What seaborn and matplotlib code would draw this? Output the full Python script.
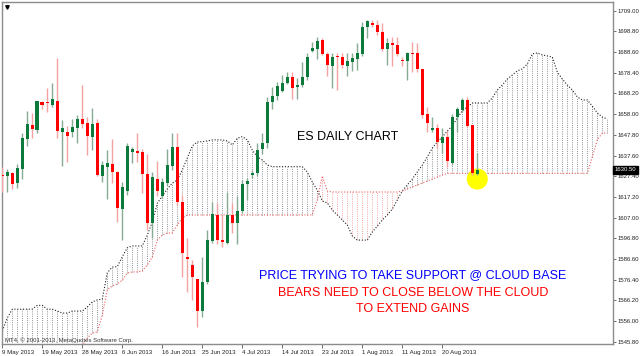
import matplotlib
matplotlib.use("Agg")
import matplotlib.pyplot as plt
import matplotlib.transforms as mtransforms
from matplotlib import font_manager
import numpy as np
import pandas as pd
import seaborn as sns

# ---------------- data ----------------
opens = [1628.0, 1627.6, 1629.1, 1623.9, 1630.8, 1645.7, 1652.6, 1650.0, 1663.8, 1663.6,
         1662.6, 1664.6, 1649.2, 1649.2, 1649.2, 1651.2, 1655.4, 1653.6, 1646.7, 1653.6,
         1627.5, 1632.1, 1633.4, 1629.5, 1611.2, 1620.2, 1639.5, 1640.0, 1639.3, 1628.5,
         1604.2, 1625.9, 1617.6, 1624.2, 1632.4, 1641.6, 1614.8, 1587.7, 1583.6, 1576.7,
         1561.1, 1575.4, 1595.6, 1608.3, 1596.0, 1594.6, 1608.3, 1604.5, 1610.2, 1623.5,
         1628.0, 1628.8, 1640.7, 1643.6, 1664.1, 1666.9, 1669.5, 1673.5, 1676.5, 1671.4,
         1672.4, 1676.2, 1689.3, 1689.9, 1694.6, 1687.9, 1681.7, 1686.7, 1686.3, 1681.7,
         1683.9, 1685.0, 1687.6, 1700.8, 1703.1, 1702.2, 1698.6, 1690.0, 1693.2, 1692.1,
         1684.4, 1684.3, 1688.3, 1688.0, 1680.1, 1658.1, 1650.4, 1651.0, 1643.6, 1646.7,
         1633.7, 1656.6, 1660.0, 1664.9, 1652.6, 1628.7]
highs = [1632.0, 1630.8, 1629.5, 1633.4, 1648.5, 1659.7, 1658.4, 1664.5, 1664.6, 1671.0,
         1673.2, 1685.5, 1655.1, 1652.2, 1655.4, 1657.6, 1672.4, 1656.7, 1660.9, 1655.6,
         1634.9, 1640.3, 1645.6, 1630.0, 1624.7, 1643.9, 1642.0, 1648.5, 1640.8, 1638.3,
         1629.6, 1634.9, 1626.5, 1640.7, 1648.5, 1648.8, 1618.1, 1596.8, 1586.1, 1576.7,
         1587.7, 1600.9, 1614.8, 1614.0, 1608.3, 1619.7, 1614.3, 1617.6, 1625.5, 1626.5,
         1630.4, 1643.8, 1648.5, 1666.3, 1671.5, 1673.8, 1677.3, 1678.9, 1678.9, 1675.7,
         1683.7, 1688.0, 1693.4, 1695.8, 1695.5, 1688.8, 1688.1, 1688.0, 1688.1, 1688.0,
         1688.1, 1692.9, 1703.4, 1704.4, 1704.2, 1704.4, 1702.8, 1695.5, 1696.2, 1695.9,
         1686.3, 1688.8, 1693.7, 1692.9, 1680.3, 1661.4, 1656.7, 1653.1, 1651.4, 1649.7,
         1658.1, 1661.7, 1665.9, 1666.6, 1652.6, 1638.7]
lows = [1619.5, 1619.75, 1621.1, 1621.4, 1625.9, 1642.3, 1646.1, 1648.8, 1660.5, 1659.2,
        1661.7, 1646.1, 1632.6, 1634.5, 1646.9, 1643.6, 1651.0, 1637.8, 1640.3, 1627.7,
        1624.7, 1616.0, 1624.2, 1605.0, 1596.0, 1618.1, 1633.7, 1634.5, 1619.0, 1600.9,
        1596.8, 1617.6, 1616.6, 1622.6, 1630.5, 1613.2, 1577.9, 1570.4, 1566.4, 1553.2,
        1558.1, 1574.2, 1594.5, 1594.0, 1592.6, 1594.0, 1599.5, 1594.0, 1609.2, 1615.6,
        1626.5, 1627.5, 1638.3, 1641.1, 1660.4, 1665.0, 1668.9, 1672.9, 1665.5, 1665.3,
        1671.2, 1674.8, 1688.6, 1685.0, 1687.2, 1676.8, 1670.7, 1669.9, 1680.7, 1676.6,
        1679.3, 1679.8, 1686.7, 1695.4, 1700.9, 1697.0, 1689.1, 1682.2, 1681.7, 1686.7,
        1681.7, 1674.8, 1678.9, 1678.8, 1656.1, 1649.3, 1649.3, 1641.5, 1639.0, 1632.1,
        1632.9, 1649.3, 1659.0, 1651.7, 1628.0, 1628.0]
closes = [1627.25, 1629.3, 1623.5, 1631.4, 1646.4, 1653.0, 1650.5, 1664.5, 1662.6, 1663.3,
          1665.3, 1649.8, 1651.3, 1647.4, 1651.7, 1655.6, 1653.1, 1647.2, 1653.1, 1628.0,
          1632.9, 1634.0, 1629.5, 1611.6, 1622.2, 1642.3, 1640.7, 1639.0, 1628.5, 1604.5,
          1626.8, 1620.2, 1624.4, 1632.9, 1641.6, 1614.8, 1589.4, 1586.6, 1577.5, 1561.1,
          1575.4, 1596.0, 1608.7, 1596.0, 1595.0, 1608.3, 1604.5, 1610.2, 1623.4, 1625.0,
          1629.1, 1640.3, 1643.6, 1664.1, 1667.1, 1671.9, 1673.5, 1676.5, 1670.9, 1672.4,
          1676.2, 1686.3, 1690.5, 1694.1, 1687.9, 1682.2, 1686.2, 1686.0, 1682.2, 1684.3,
          1685.5, 1688.0, 1701.1, 1704.1, 1701.8, 1698.3, 1689.9, 1693.2, 1692.1, 1687.6,
          1684.1, 1688.0, 1687.5, 1680.1, 1657.6, 1653.8, 1650.9, 1644.3, 1646.9, 1634.9,
          1656.7, 1660.4, 1664.9, 1652.1, 1628.8, 1630.5]

# Ichimoku Senkou spans (cloud), one value per bar incl. 26 bars projected ahead
span_a = [1551.1, 1557.5, 1561.8, 1561.8, 1561.8, 1561.8, 1561.9, 1563.7, 1563.7, 1561.8,
          1561.8, 1560.9, 1559.9, 1559.9, 1560.9, 1560.9, 1560.9, 1562.9, 1565.4, 1566.4,
          1566.8, 1579.8, 1582.6, 1582.8, 1587.7, 1592.1, 1593.0, 1593.0, 1593.0, 1598.4,
          1604.8, 1614.0, 1617.6, 1621.1, 1624.0, 1625.5, 1630.5, 1636.4, 1642.3, 1644.3,
          1644.4, 1644.8, 1645.3, 1645.3, 1645.3, 1644.8, 1642.8, 1646.1, 1646.9, 1645.3,
          1640.3, 1637.0, 1635.4, 1632.9, 1632.1, 1632.1, 1632.1, 1632.1, 1632.1, 1632.1,
          1632.1, 1629.5, 1624.5, 1620.6, 1615.2, 1614.2, 1610.7, 1608.3, 1605.8, 1603.3,
          1597.9, 1595.9, 1595.9, 1595.9, 1599.9, 1602.8, 1605.8, 1608.3, 1611.2, 1615.7,
          1620.1, 1623.1, 1626.0, 1629.5, 1632.9, 1636.9, 1641.3, 1644.3, 1646.7, 1649.7,
          1652.2, 1656.1, 1659.6, 1661.5, 1663.5, 1663.5, 1663.5, 1663.5, 1666.0, 1669.9,
          1672.4, 1675.3, 1677.3, 1679.3, 1680.3, 1682.7, 1687.7, 1688.2, 1687.2, 1686.7,
          1686.2, 1678.8, 1675.3, 1672.4, 1669.9, 1666.5, 1665.0, 1665.0, 1662.0, 1658.6,
          1656.6, 1655.6]
span_b = [1540.0, 1540.0, 1540.0, 1540.0, 1540.0, 1540.0, 1540.0, 1540.0, 1540.0, 1540.0,
          1540.0, 1540.0, 1540.0, 1540.0, 1540.0, 1540.0, 1544.0, 1547.6, 1550.1, 1550.6,
          1559.0, 1571.3, 1573.3, 1574.2, 1576.2, 1579.7, 1580.2, 1580.2, 1580.7, 1583.6,
          1587.6, 1595.9, 1598.4, 1599.4, 1599.4, 1603.3, 1606.8, 1608.3, 1608.3, 1608.3,
          1608.3, 1608.3, 1608.3, 1608.3, 1608.3, 1608.3, 1608.3, 1608.3, 1608.3, 1608.3,
          1608.3, 1608.3, 1608.3, 1608.3, 1608.3, 1608.3, 1608.3, 1608.3, 1608.3, 1608.3,
          1608.3, 1608.3, 1608.3, 1615.7, 1627.5, 1620.1, 1619.6, 1619.6, 1619.6, 1619.6,
          1619.6, 1619.6, 1619.6, 1619.6, 1619.6, 1619.6, 1619.6, 1619.6, 1619.6, 1619.6,
          1620.1, 1621.1, 1622.1, 1623.1, 1624.0, 1625.0, 1626.0, 1627.0, 1628.0, 1628.8,
          1628.8, 1628.8, 1628.8, 1628.8, 1628.8, 1628.8, 1628.8, 1628.8, 1628.8, 1628.8,
          1628.8, 1628.8, 1628.8, 1628.8, 1628.8, 1628.8, 1628.8, 1628.8, 1628.8, 1628.8,
          1628.8, 1628.8, 1628.8, 1628.8, 1628.8, 1628.8, 1628.8, 1628.8, 1636.9, 1645.3,
          1648.7, 1648.7]

date_labels = ["9 May 2013", "19 May 2013", "28 May 2013", "6 Jun 2013", "16 Jun 2013",
               "25 Jun 2013", "4 Jul 2013", "14 Jul 2013", "23 Jul 2013", "1 Aug 2013",
               "11 Aug 2013", "20 Aug 2013"]
bars_per_label = 8
price_ticks = [1545.80, 1556.00, 1566.20, 1576.40, 1586.60, 1596.80, 1607.00, 1617.20,
               1627.40, 1637.60, 1647.80, 1658.00, 1668.20, 1678.40, 1688.60, 1698.80, 1709.00]
last_price_label = "1630.50"

# ---------------- styling ----------------
sns.set_theme(style="white")
plt.rcParams['font.family'] = ['Liberation Sans', 'DejaVu Sans']
names = {f.name for f in font_manager.fontManager.ttflist}
small_family = ['Liberation Sans Narrow', 'Liberation Sans', 'DejaVu Sans'] \
    if 'Liberation Sans Narrow' in names else ['Liberation Sans', 'DejaVu Sans']

GREEN = "#0b7a3b"
GREEN_WICK = "#86ad94"
RED = "#ff0000"
RED_WICK = "#f4a3a3"

fig = plt.figure(figsize=(6.4, 3.56), dpi=100)
ax = fig.add_axes([2 / 640, 12 / 356, 611 / 640, 342 / 356])
ax.set_facecolor("white")

n = len(closes)
x = np.arange(n)
cloud = pd.DataFrame({"bar": np.arange(len(span_a)), "span_a": span_a, "span_b": span_b})

# cloud hatching: one dotted vertical line per bar
lo = np.minimum(cloud.span_a, cloud.span_b)
hi = np.maximum(cloud.span_a, cloud.span_b)
hatch_cols = np.where(cloud.span_a >= cloud.span_b, "#6e6e6e", "#f08a8a")
ax.vlines(cloud.bar, lo, hi, colors=hatch_cols, linewidth=0.6,
          linestyles=(0, (1.0, 1.6)), zorder=1)

sns.lineplot(data=cloud, x="bar", y="span_a", ax=ax, color="#222222",
             linewidth=0.8, linestyle=(0, (1.0, 1.6)), zorder=2)
sns.lineplot(data=cloud, x="bar", y="span_b", ax=ax, color="#f06060",
             linewidth=0.8, linestyle=(0, (1.0, 1.6)), zorder=2)

# highlight on the last bar
ax.scatter([n - 1], [lows[-1] - 2.0], s=230, color="#ffff00", edgecolors="none", zorder=3)

# candles
o = np.array(opens); c = np.array(closes); h = np.array(highs); l = np.array(lows)
up = c >= o
wick_cols = np.where(up, GREEN_WICK, RED_WICK)
ax.vlines(x, l, h, colors=wick_cols, linewidth=1.0, zorder=4)
body_bottom = np.minimum(o, c)
body_h = np.maximum(np.abs(c - o), 0.6)
ax.bar(x, body_h, bottom=body_bottom, width=0.72,
       color=np.where(up, GREEN, RED), linewidth=0, zorder=5)

# axes
ax.set_xlim(-0.06, 122.14)
ax.set_ylim(1544.65, 1713.3)
ax.set_xlabel("")
ax.set_ylabel("")
for s in ax.spines.values():
    s.set_color("#8c8c8c")
    s.set_linewidth(1.0)

ax.yaxis.tick_right()
ax.set_yticks(price_ticks)
ax.set_yticklabels([f"{v:.2f}" for v in price_ticks], family=small_family)
ax.set_xticks(np.arange(0, len(date_labels) * bars_per_label, bars_per_label))
ax.set_xticklabels(date_labels, family=small_family, ha="left")
ax.tick_params(axis="y", right=True, left=False, length=2.5, width=0.6, color="#555555",
               labelsize=4.3, pad=1.0, labelcolor="#222222", direction="out")
ax.tick_params(axis="x", bottom=True, length=3, width=0.6, color="#555555",
               labelsize=4.4, pad=1.2, labelcolor="#222222", direction="out")
ax.grid(False)

# last price box
trans = mtransforms.blended_transform_factory(ax.transAxes, ax.transData)
ax.text(1.003, closes[-1], last_price_label, transform=trans, ha="left", va="center",
        fontsize=4.3, color="white", family=small_family,
        bbox=dict(boxstyle="square,pad=0.25", fc="black", ec="black"))

# annotations
ax.text(0.5663, 0.606, "ES DAILY CHART", transform=ax.transAxes, ha="center", va="center",
        fontsize=9, color="black")
ax.text(0.6727, 0.2003, "PRICE TRYING TO TAKE SUPPORT @ CLOUD BASE", transform=ax.transAxes,
        ha="center", va="center", fontsize=9, color="#0000ff")
ax.text(0.6727, 0.150, "BEARS NEED TO CLOSE BELOW THE CLOUD", transform=ax.transAxes,
        ha="center", va="center", fontsize=9, color="#ff0000")
ax.text(0.6727, 0.1023, "TO EXTEND GAINS", transform=ax.transAxes,
        ha="center", va="center", fontsize=9, color="#ff0000")
ax.text(0.005, 0.012, "MT4, \u00a9 2001-2013, MetaQuotes Software Corp.", transform=ax.transAxes,
        ha="left", va="center", fontsize=4.3, color="#333333", family=small_family)
ax.plot([0.008], [0.985], marker="v", markersize=2.5, color="black", transform=ax.transAxes)

fig.savefig("out.png", dpi=100, facecolor="white")
